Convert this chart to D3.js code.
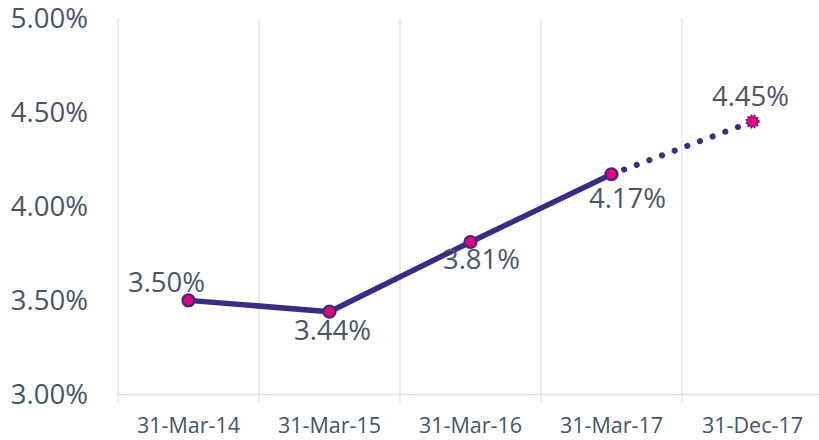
<!DOCTYPE html>
<html><head><meta charset="utf-8">
<script src="https://cdn.jsdelivr.net/npm/d3@7"></script>
<style>body{margin:0;background:#fff}svg{display:block}</style>
</head><body>
<svg id="c" width="819" height="440"></svg>
<script>
const categories = ["31-Mar-14","31-Mar-15","31-Mar-16","31-Mar-17","31-Dec-17"];
const values = [3.50, 3.44, 3.81, 4.17, 4.45];
const actualCount = 4; // first 4 solid, last projected (dotted)
const yTicks = [3.00, 3.50, 4.00, 4.50, 5.00];
// label offsets (layout, px) relative to point
const labelOffsets = [[-22,-8],[3,28],[11,27],[16,34],[-2,-16]];

const svg = d3.select("#c");
const textColor = "#44546A", lineColor = "#3A2C86", markerFill = "#E6007E", gridColor = "#DCE0E6";
const font = "'Open Sans', sans-serif";

const x = d3.scaleBand().domain(categories).range([118, 823]);
const y = d3.scaleLinear().domain([3, 5]).range([394.5, 18]);

// vertical gridlines at band boundaries
const bounds = categories.map(c => x(c)).concat([x(categories[4]) + x.bandwidth()]);
svg.append("g").selectAll("line").data(bounds).join("line")
  .attr("x1", d => d).attr("x2", d => d).attr("y1", y(5)).attr("y2", 402)
  .attr("stroke", gridColor).attr("stroke-width", 1.3);
// bottom axis line
svg.append("line").attr("x1", 118).attr("x2", 819).attr("y1", y(3)).attr("y2", y(3))
  .attr("stroke", gridColor).attr("stroke-width", 1.3);

// y tick labels
svg.append("g").selectAll("text").data(yTicks).join("text")
  .attr("x", 88).attr("y", d => y(d)).attr("dy", "0.36em")
  .attr("text-anchor", "end").attr("font-family", font).attr("font-size", 27.5)
  .attr("fill", textColor).text(d => d.toFixed(2) + "%");

// x labels
svg.append("g").selectAll("text").data(categories).join("text")
  .attr("x", d => x(d) + x.bandwidth()/2).attr("y", 433)
  .attr("text-anchor", "middle").attr("font-family", font).attr("font-size", 21.5)
  .attr("fill", textColor).text(d => d);

const pts = categories.map((c, i) => ({c, v: values[i], i}));
const line = d3.line().x(d => x(d.c) + x.bandwidth()/2).y(d => y(d.v));

svg.append("path").datum(pts.slice(0, actualCount))
  .attr("d", line).attr("fill", "none").attr("stroke", lineColor)
  .attr("stroke-width", 5.5).attr("stroke-linejoin", "round");
svg.append("path").datum(pts.slice(actualCount - 1))
  .attr("d", line).attr("fill", "none").attr("stroke", lineColor)
  .attr("stroke-width", 6).attr("stroke-linecap", "round").attr("stroke-dasharray", "0.1 13.4")
  .attr("stroke-dashoffset", -13.4);

svg.append("g").selectAll("circle").data(pts).join("circle")
  .attr("cx", d => x(d.c) + x.bandwidth()/2).attr("cy", d => y(d.v)).attr("r", 6)
  .attr("fill", markerFill).attr("stroke", lineColor).attr("stroke-width", 2.2)
  .attr("stroke-dasharray", d => d.i >= actualCount ? "1.6 1.6" : null);

svg.append("g").selectAll("text").data(pts).join("text")
  .attr("x", d => x(d.c) + x.bandwidth()/2 + labelOffsets[d.i][0])
  .attr("y", d => y(d.v) + labelOffsets[d.i][1])
  .attr("text-anchor", "middle").attr("font-family", font).attr("font-size", 27.5)
  .attr("fill", "#4A5568").text(d => d.v.toFixed(2) + "%");
</script>
</body></html>
